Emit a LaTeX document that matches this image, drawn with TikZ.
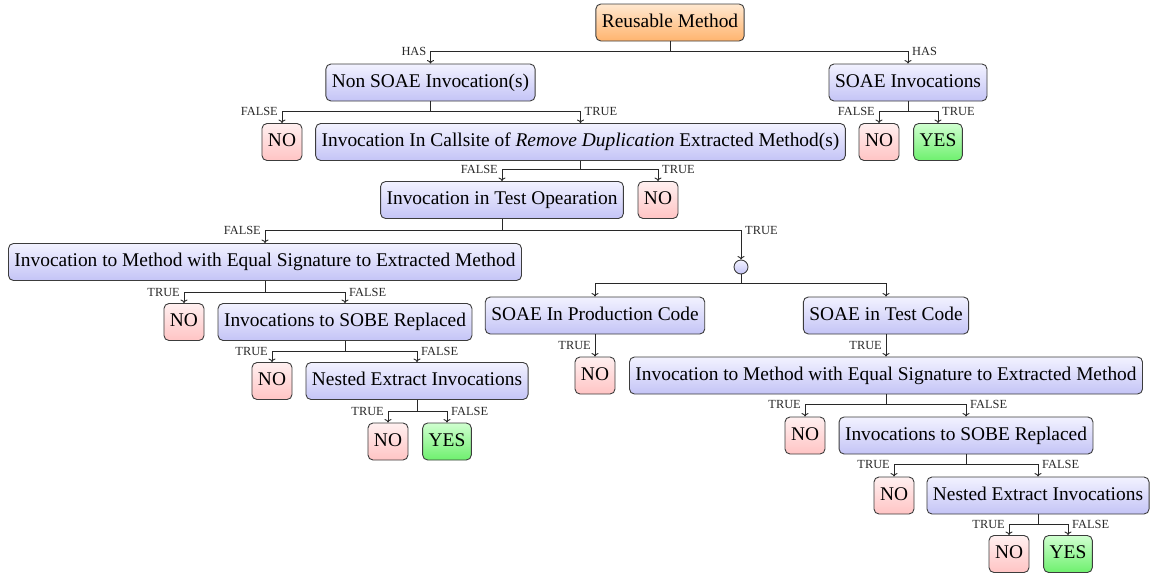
\documentclass[tikz,border=0pt]{standalone}
\usepackage{fontspec}
\setmainfont{Liberation Serif}
\usetikzlibrary{arrows.meta,calc}
\definecolor{bT}{RGB}{242,242,255}
\definecolor{bB}{RGB}{196,196,246}
\definecolor{oT}{RGB}{255,232,208}
\definecolor{oB}{RGB}{255,180,110}
\definecolor{rT}{RGB}{255,240,240}
\definecolor{rB}{RGB}{255,196,196}
\definecolor{gT}{RGB}{208,255,208}
\definecolor{gB}{RGB}{110,240,110}
\definecolor{lnC}{RGB}{40,40,40}
\definecolor{bdC}{RGB}{60,60,60}
\newcommand\lfork[4]{\draw[edge] (#1.south) -- (#1.south |- #3) -| (#2.north);
  \node[lab,anchor=east,xshift=-4pt] at (#2.north |- #3) {#4};}
\newcommand\rfork[4]{\draw[edge] (#1.south) -- (#1.south |- #3) -| (#2.north);
  \node[lab,anchor=west,xshift=4pt] at (#2.north |- #3) {#4};}
\begin{document}
\begin{tikzpicture}[x=1pt,y=-1pt,
  box/.style={draw=bdC, line width=0.9pt, rounded corners=5pt, minimum height=37pt,
    inner xsep=6pt, inner ysep=0pt, text height=13.5pt, text depth=4.5pt,
    font=\fontsize{19.4}{23}\selectfont},
  qbox/.style={box, top color=bT, bottom color=bB},
  rootbox/.style={box, top color=oT, bottom color=oB},
  nobox/.style={box, top color=rT, bottom color=rB},
  yesbox/.style={box, top color=gT, bottom color=gB},
  joint/.style={circle, draw=bdC, line width=0.9pt, minimum size=14pt, inner sep=0pt, top color=bT, bottom color=bB},
  edge/.style={draw=lnC, line width=0.9pt, -{To[length=3.5pt,width=7pt]}},
  plain/.style={draw=lnC, line width=0.9pt},
  lab/.style={font=\fontsize{12.4}{14}\selectfont, inner sep=0pt, text=lnC}
]
\useasboundingbox (0,0) rectangle (1150,573);
% nodes
\node[rootbox] (rm) at (670,22.5) {Reusable Method};
\node[qbox] (ns) at (430.5,82.5) {Non SOAE Invocation(s)};
\node[qbox] (so) at (908,82.5) {SOAE Invocations};
\node[nobox] (no1) at (282,142) {NO};
\node[qbox] (cs) at (580.5,142) {Invocation In Callsite of \textit{Remove Duplication} Extracted Method(s)};
\node[nobox] (no2) at (879,142) {NO};
\node[yesbox] (yes1) at (938,142) {YES};
\node[qbox] (to) at (502,200) {Invocation in Test Opearation};
\node[nobox] (no3) at (658,200) {NO};
\node[qbox] (im1) at (265,262) {Invocation to Method with Equal Signature to Extracted Method};
\node[joint] (jn) at (741,267) {};
\node[nobox] (no4) at (184,322) {NO};
\node[qbox] (sb1) at (345,322) {Invocations to SOBE Replaced};
\node[qbox] (sp) at (595,315.5) {SOAE In Production Code};
\node[qbox] (st) at (886,315.5) {SOAE in Test Code};
\node[nobox] (no5) at (272,381) {NO};
\node[qbox] (ne1) at (417,381) {Nested Extract Invocations};
\node[nobox] (no6) at (595,375.5) {NO};
\node[qbox] (im2) at (886,375.5) {Invocation to Method with Equal Signature to Extracted Method};
\node[nobox] (no7) at (388,441.5) {NO};
\node[yesbox] (yes2) at (447,441.5) {YES};
\node[nobox] (no8) at (805,435.5) {NO};
\node[qbox] (sb2) at (966,435.5) {Invocations to SOBE Replaced};
\node[nobox] (no9) at (894,495.5) {NO};
\node[qbox] (ne2) at (1038,495.5) {Nested Extract Invocations};
\node[nobox] (no10) at (1009,554) {NO};
\node[yesbox] (yes3) at (1068,554) {YES};
% branch levels
\coordinate (y0) at (0,51);
\coordinate (y1) at (0,111);
\coordinate (y2) at (0,169);
\coordinate (y3) at (0,230);
\coordinate (y4) at (0,292);
\coordinate (y4b) at (0,283);
\coordinate (y5) at (0,351);
\coordinate (y6) at (0,411);
\coordinate (y7) at (0,404);
\coordinate (y8) at (0,464);
\coordinate (y9) at (0,524);
% edges
\lfork{rm}{ns}{y0}{HAS}
\rfork{rm}{so}{y0}{HAS}
\lfork{ns}{no1}{y1}{FALSE}
\rfork{ns}{cs}{y1}{TRUE}
\lfork{so}{no2}{y1}{FALSE}
\rfork{so}{yes1}{y1}{TRUE}
\lfork{cs}{to}{y2}{FALSE}
\rfork{cs}{no3}{y2}{TRUE}
\lfork{to}{im1}{y3}{FALSE}
\rfork{to}{jn}{y3}{TRUE}
\lfork{im1}{no4}{y4}{TRUE}
\rfork{im1}{sb1}{y4}{FALSE}
\draw[edge] (jn.south) -- (jn.south |- y4b) -| (sp.north);
\draw[edge] (jn.south) -- (jn.south |- y4b) -| (st.north);
\lfork{sb1}{no5}{y5}{TRUE}
\rfork{sb1}{ne1}{y5}{FALSE}
\lfork{ne1}{no7}{y6}{TRUE}
\rfork{ne1}{yes2}{y6}{FALSE}
\draw[edge] (sp.south) -- (no6.north);
\node[lab,anchor=east,xshift=-4pt] at ($(sp.south)!0.5!(no6.north)$) {TRUE};
\draw[edge] (st.south) -- (im2.north);
\node[lab,anchor=east,xshift=-4pt] at ($(st.south)!0.5!(im2.north)$) {TRUE};
\lfork{im2}{no8}{y7}{TRUE}
\rfork{im2}{sb2}{y7}{FALSE}
\lfork{sb2}{no9}{y8}{TRUE}
\rfork{sb2}{ne2}{y8}{FALSE}
\lfork{ne2}{no10}{y9}{TRUE}
\rfork{ne2}{yes3}{y9}{FALSE}
\end{tikzpicture}
\end{document}
